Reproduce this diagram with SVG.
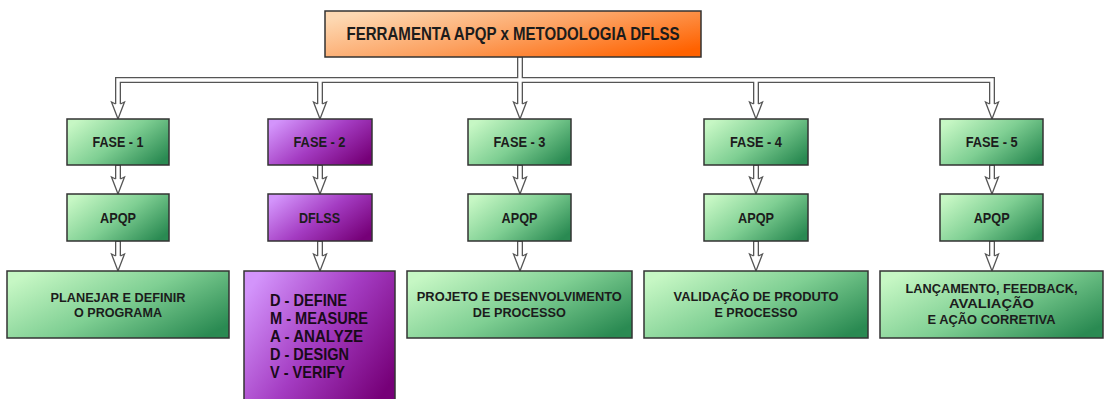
<svg xmlns="http://www.w3.org/2000/svg" xmlns:xlink="http://www.w3.org/1999/xlink" width="1107" height="399" viewBox="0 0 1107 399">
<defs>
<linearGradient id="gGreen" x1="0" y1="0.2" x2="1" y2="0.8">
<stop offset="0" stop-color="#c6f7c4"/>
<stop offset="0.5" stop-color="#7fcf93"/>
<stop offset="1" stop-color="#2a8a52"/>
</linearGradient>
<linearGradient id="gPurple" x1="0" y1="0.2" x2="1" y2="0.8">
<stop offset="0" stop-color="#d394fb"/>
<stop offset="0.5" stop-color="#a43cc2"/>
<stop offset="1" stop-color="#760078"/>
</linearGradient>
<linearGradient id="gOrange" x1="0" y1="0.2" x2="1" y2="0.8">
<stop offset="0" stop-color="#fdd8b2"/>
<stop offset="0.5" stop-color="#fca262"/>
<stop offset="1" stop-color="#ff6200"/>
</linearGradient>
<path id="head" d="M-2.4,-15 L-6.5,-17 L0,0 L6.5,-17 L2.4,-15" fill="#fff" stroke="#555" stroke-width="1.3" stroke-linejoin="miter"/>
</defs>
<style>
.box{stroke:#333;stroke-width:1.5}
.green{fill:url(#gGreen)}
.purple{fill:url(#gPurple)}
.orange{fill:url(#gOrange)}
text{font-family:"Liberation Sans",Arial,sans-serif;font-weight:bold;fill:#1c1c1c;text-anchor:middle}
.t13{font-size:13.5px}
.t14{font-size:14px}
.list{font-size:17px;text-anchor:start;fill:#1a0a1a}
.outer{fill:none;stroke:#555;stroke-width:6}
.inner{fill:none;stroke:#fff;stroke-width:3.4}
</style>
<rect width="1107" height="399" fill="#fff"/>

<g id="connectors">
<g class="outer">
<path d="M520,57 V104"/>
<path d="M118,104 V80 H992 V104"/>
<path d="M320,80 V104"/>
<path d="M756,80 V104"/>
<path d="M118,165 V179 M320,165 V179 M520,165 V179 M756,165 V179 M992,165 V179"/>
<path d="M118,241 V256 M320,241 V256 M520,241 V256 M756,241 V256 M992,241 V256"/>
</g>
<g class="inner">
<path d="M520,57.5 V104"/>
<path d="M118,104 V80 H992 V104"/>
<path d="M320,80 V104"/>
<path d="M756,80 V104"/>
<path d="M118,165.8 V179 M320,165.8 V179 M520,165.8 V179 M756,165.8 V179 M992,165.8 V179"/>
<path d="M118,241.8 V256 M320,241.8 V256 M520,241.8 V256 M756,241.8 V256 M992,241.8 V256"/>
</g>
<use xlink:href="#head" x="118" y="119"/>
<use xlink:href="#head" x="320" y="119"/>
<use xlink:href="#head" x="520" y="119"/>
<use xlink:href="#head" x="756" y="119"/>
<use xlink:href="#head" x="992" y="119"/>
<use xlink:href="#head" x="118" y="194"/>
<use xlink:href="#head" x="320" y="194"/>
<use xlink:href="#head" x="520" y="194"/>
<use xlink:href="#head" x="756" y="194"/>
<use xlink:href="#head" x="992" y="194"/>
<use xlink:href="#head" x="118" y="271"/>
<use xlink:href="#head" x="320" y="271"/>
<use xlink:href="#head" x="520" y="271"/>
<use xlink:href="#head" x="756" y="271"/>
<use xlink:href="#head" x="992" y="271"/>
</g>

<g id="title">
<rect class="box orange" x="325" y="11" width="376" height="46"/>
<text x="513" y="39.5" font-size="17.5" textLength="333" lengthAdjust="spacingAndGlyphs">FERRAMENTA APQP x METODOLOGIA DFLSS</text>
</g>

<g id="fase1">
<rect class="box green" x="67" y="119" width="102" height="46"/>
<text class="t14" x="118" y="147" textLength="51" lengthAdjust="spacingAndGlyphs">FASE - 1</text>
</g>
<g id="apqp1">
<rect class="box green" x="67" y="194" width="102" height="47"/>
<text class="t14" x="118" y="222.5" textLength="36" lengthAdjust="spacingAndGlyphs">APQP</text>
</g>
<g id="desc1">
<rect class="box green" x="7" y="271" width="222" height="67"/>
<text class="t13" x="118" y="301.5" textLength="135" lengthAdjust="spacingAndGlyphs">PLANEJAR E DEFINIR</text>
<text class="t13" x="118" y="316.5" textLength="88" lengthAdjust="spacingAndGlyphs">O PROGRAMA</text>
</g>

<g id="fase2">
<rect class="box purple" x="268" y="119" width="104" height="46"/>
<text class="t14" x="319.5" y="147" textLength="52" lengthAdjust="spacingAndGlyphs">FASE - 2</text>
</g>
<g id="dflss2">
<rect class="box purple" x="268" y="194" width="104" height="47"/>
<text class="t14" x="319.5" y="222.5" textLength="41" lengthAdjust="spacingAndGlyphs">DFLSS</text>
</g>
<g id="desc2">
<rect class="box purple" x="244" y="271" width="151" height="132"/>
<text class="list" x="270" y="305.5" textLength="77" lengthAdjust="spacingAndGlyphs">D - DEFINE</text>
<text class="list" x="270" y="323.5" textLength="98" lengthAdjust="spacingAndGlyphs">M - MEASURE</text>
<text class="list" x="270" y="341.5" textLength="93" lengthAdjust="spacingAndGlyphs">A - ANALYZE</text>
<text class="list" x="270" y="360" textLength="79" lengthAdjust="spacingAndGlyphs">D - DESIGN</text>
<text class="list" x="270" y="378" textLength="75" lengthAdjust="spacingAndGlyphs">V - VERIFY</text>
</g>

<g id="fase3">
<rect class="box green" x="468" y="119" width="103" height="46"/>
<text class="t14" x="519.5" y="147" textLength="52" lengthAdjust="spacingAndGlyphs">FASE - 3</text>
</g>
<g id="apqp3">
<rect class="box green" x="468" y="194" width="103" height="47"/>
<text class="t14" x="519.5" y="222.5" textLength="36" lengthAdjust="spacingAndGlyphs">APQP</text>
</g>
<g id="desc3">
<rect class="box green" x="407" y="271" width="225" height="67"/>
<text class="t13" x="519.3" y="300.8" textLength="205" lengthAdjust="spacingAndGlyphs">PROJETO E DESENVOLVIMENTO</text>
<text class="t13" x="519.3" y="316.5" textLength="93" lengthAdjust="spacingAndGlyphs">DE PROCESSO</text>
</g>

<g id="fase4">
<rect class="box green" x="704" y="119" width="104" height="46"/>
<text class="t14" x="756" y="147" textLength="52" lengthAdjust="spacingAndGlyphs">FASE - 4</text>
</g>
<g id="apqp4">
<rect class="box green" x="704" y="194" width="104" height="47"/>
<text class="t14" x="756" y="222.5" textLength="36" lengthAdjust="spacingAndGlyphs">APQP</text>
</g>
<g id="desc4">
<rect class="box green" x="644" y="271" width="224" height="67"/>
<text class="t13" x="756" y="300.8" textLength="165" lengthAdjust="spacingAndGlyphs">VALIDAÇÃO DE PRODUTO</text>
<text class="t13" x="756" y="316.5" textLength="83" lengthAdjust="spacingAndGlyphs">E PROCESSO</text>
</g>

<g id="fase5">
<rect class="box green" x="940" y="119" width="103" height="46"/>
<text class="t14" x="991.7" y="147" textLength="52" lengthAdjust="spacingAndGlyphs">FASE - 5</text>
</g>
<g id="apqp5">
<rect class="box green" x="940" y="194" width="103" height="47"/>
<text class="t14" x="991.7" y="222.5" textLength="36" lengthAdjust="spacingAndGlyphs">APQP</text>
</g>
<g id="desc5">
<rect class="box green" x="880" y="271" width="223" height="67"/>
<text class="t13" x="991.5" y="293.3" textLength="172" lengthAdjust="spacingAndGlyphs">LANÇAMENTO, FEEDBACK,</text>
<text class="t13" x="991.5" y="308.3" textLength="85" lengthAdjust="spacingAndGlyphs">AVALIAÇÃO</text>
<text class="t13" x="991.5" y="324" textLength="128" lengthAdjust="spacingAndGlyphs">E AÇÃO CORRETIVA</text>
</g>
</svg>
